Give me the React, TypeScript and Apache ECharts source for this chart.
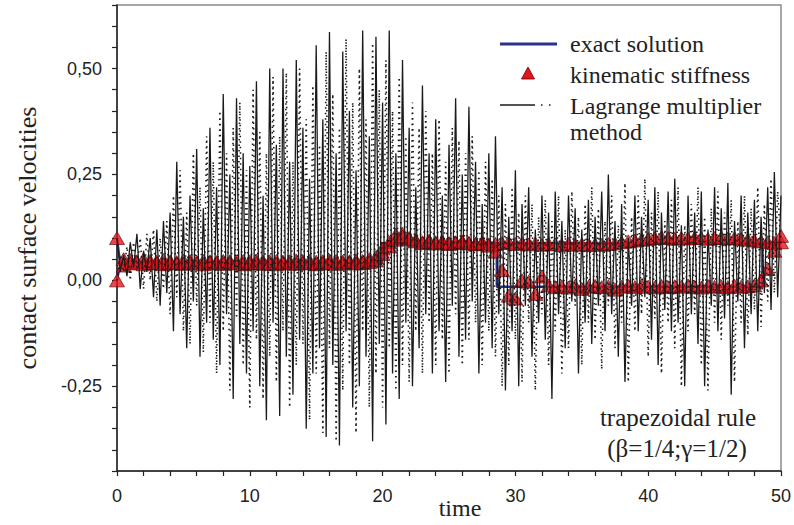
import React, { useEffect, useRef } from "react";
import * as echarts from "echarts";

// ---- data ----
const LAG_DT = 0.25; // sampling step of the Lagrange multiplier traces
const KS_DT = 0.5; // sampling step of the kinematic stiffness markers

// Lagrange multiplier method, surface 1 (solid)
const lagSolid = [
  0.10, 0.02, 0.06, 0.01,
  0.09, 0.03, 0.11, -0.02,
  0.07, 0.02, 0.10, -0.04,
  0.12, -0.06, 0.14, -0.03,
  0.16, -0.12, 0.28, -0.08,
  0.15, -0.16, 0.20, -0.05,
  0.31, -0.18, 0.17, -0.10,
  0.36, -0.14, 0.22, -0.20,
  0.44, -0.08, 0.25, -0.28,
  0.43, -0.15, 0.30, -0.22,
  0.27, -0.12, 0.47, -0.25,
  0.20, -0.33, 0.50, -0.10,
  0.32, -0.32, 0.50, -0.18,
  0.28, -0.27, 0.52, -0.14,
  0.36, -0.35, 0.24, -0.22,
  0.555, -0.16, 0.38, -0.37,
  0.586, -0.20, 0.30, -0.39,
  0.54, -0.12, 0.40, -0.30,
  0.26, -0.25, 0.59, -0.18,
  0.34, -0.38, 0.575, -0.15,
  0.42, -0.34, 0.59, -0.22,
  0.30, -0.28, 0.52, -0.10,
  0.36, -0.25, 0.22, -0.16,
  0.46, -0.08, 0.30, -0.22,
  0.38, -0.12, 0.20, -0.24,
  0.32, -0.06, 0.43, -0.18,
  0.25, -0.14, 0.41, -0.05,
  0.28, -0.22, 0.18, -0.10,
  0.30, -0.16, 0.34, -0.08,
  0.22, -0.26, 0.15, -0.12,
  0.26, -0.25, 0.18, -0.06,
  0.22, -0.18, 0.12, -0.10,
  0.20, -0.14, 0.16, -0.28,
  0.21, -0.08, 0.14, -0.16,
  0.20, -0.05, 0.17, -0.22,
  0.12, -0.10, 0.19, -0.15,
  0.15, -0.06, 0.21, -0.12,
  0.25, -0.08, 0.14, -0.18,
  0.18, -0.24, 0.10, -0.06,
  0.20, -0.12, 0.15, -0.04,
  0.19, -0.14, 0.22, -0.20,
  0.16, -0.07, 0.21, -0.12,
  0.24, -0.10, 0.13, -0.25,
  0.20, -0.08, 0.16, -0.15,
  0.21, -0.25, 0.12, -0.06,
  0.22, -0.12, 0.17, -0.09,
  0.23, -0.27, 0.14, -0.05,
  0.20, -0.16, 0.16, -0.08,
  0.19, -0.12, 0.15, -0.03,
  0.22, -0.07, 0.256, -0.04,
  0.20,
];

// Lagrange multiplier method, surface 2 (dotted)
const lagDotted = [
  0.00, 0.06, 0.02, 0.08,
  0.00, 0.09, 0.03, 0.10,
  -0.02, 0.11, 0.00, 0.12,
  -0.05, 0.10, -0.02, 0.14,
  -0.08, 0.20, -0.04, 0.26,
  -0.12, 0.16, -0.15, 0.30,
  -0.06, 0.22, -0.17, 0.34,
  -0.10, 0.28, -0.22, 0.40,
  -0.12, 0.30, -0.26, 0.36,
  -0.09, 0.42, -0.20, 0.26,
  -0.30, 0.45, -0.14, 0.35,
  -0.28, 0.30, -0.18, 0.48,
  -0.24, 0.34, -0.12, 0.49,
  -0.30, 0.28, -0.20, 0.50,
  -0.15, 0.38, -0.33, 0.46,
  -0.22, 0.32, -0.36, 0.54,
  -0.16, 0.44, -0.38, 0.36,
  -0.26, 0.57, -0.20, 0.42,
  -0.36, 0.50, -0.12, 0.38,
  -0.30, 0.56, -0.22, 0.45,
  -0.30, 0.52, -0.16, 0.40,
  -0.26, 0.48, -0.20, 0.34,
  -0.24, 0.42, -0.12, 0.36,
  -0.22, 0.40, -0.10, 0.30,
  -0.20, 0.38, -0.14, 0.28,
  -0.22, 0.36, -0.08, 0.33,
  -0.20, 0.30, -0.14, 0.34,
  -0.10, 0.26, -0.20, 0.28,
  -0.12, 0.24, -0.18, 0.20,
  -0.25, 0.18, -0.20, 0.22,
  -0.14, 0.16, -0.24, 0.20,
  -0.10, 0.18, -0.26, 0.15,
  -0.08, 0.19, -0.20, 0.14,
  -0.12, 0.20, -0.22, 0.12,
  -0.16, 0.21, -0.06, 0.15,
  -0.20, 0.18, -0.10, 0.22,
  -0.14, 0.17, -0.21, 0.14,
  -0.06, 0.20, -0.16, 0.13,
  -0.10, 0.23, -0.24, 0.15,
  -0.12, 0.20, -0.08, 0.24,
  -0.18, 0.16, -0.09, 0.21,
  -0.22, 0.14, -0.10, 0.19,
  -0.16, 0.22, -0.25, 0.13,
  -0.12, 0.18, -0.08, 0.22,
  -0.20, 0.15, -0.26, 0.17,
  -0.10, 0.21, -0.14, 0.16,
  -0.06, 0.19, -0.24, 0.14,
  -0.10, 0.20, -0.13, 0.17,
  -0.07, 0.22, -0.11, 0.18,
  -0.05, 0.24, -0.03, 0.21,
  0.08,
];

// kinematic stiffness, surface 1 (upper) and surface 2 (lower)
const ksUpper = [
  0.10, 0.05, 0.048, 0.045, 0.05, 0.046, 0.044, 0.048, 0.045, 0.043,
  0.047, 0.045, 0.044, 0.046, 0.045, 0.043, 0.046, 0.045, 0.044, 0.046,
  0.045, 0.047, 0.044, 0.045, 0.046, 0.044, 0.045, 0.047, 0.045, 0.046,
  0.044, 0.045, 0.047, 0.046, 0.044, 0.045, 0.047, 0.046, 0.05, 0.055,
  0.075, 0.09, 0.108, 0.11, 0.10, 0.095, 0.09, 0.094, 0.09, 0.092,
  0.088, 0.09, 0.092, 0.089, 0.087, 0.09, 0.085, 0.086, 0.088, 0.09,
  0.086, 0.088, 0.085, 0.087, 0.084, 0.086, 0.085, 0.083, 0.086, 0.084,
  0.085, 0.083, 0.085, 0.084, 0.086, 0.087, 0.09, 0.092, 0.094, 0.096,
  0.098, 0.10, 0.102, 0.10, 0.098, 0.10, 0.099, 0.101, 0.10, 0.098,
  0.10, 0.101, 0.099, 0.10, 0.098, 0.096, 0.094, 0.092, 0.09, 0.088,
  0.09,
];
const ksLower = [
  0.0, 0.035, 0.04, 0.042, 0.038, 0.041, 0.04, 0.038, 0.042, 0.04,
  0.039, 0.041, 0.04, 0.038, 0.041, 0.04, 0.039, 0.041, 0.04, 0.038,
  0.04, 0.041, 0.039, 0.04, 0.038, 0.041, 0.04, 0.039, 0.041, 0.04,
  0.038, 0.04, 0.041, 0.039, 0.04, 0.042, 0.04, 0.041, 0.043, 0.047,
  0.062, 0.08, 0.096, 0.104, 0.097, 0.092, 0.088, 0.09, 0.087, 0.089,
  0.086, 0.088, 0.09, 0.087, 0.085, 0.087, 0.082, 0.068, 0.024, -0.036,
  -0.043, 0.0, -0.003, -0.032, 0.009, -0.012, -0.016, -0.014, -0.017, -0.013,
  -0.02, -0.015, -0.013, -0.016, -0.014, -0.022, -0.015, -0.013, -0.016, -0.012,
  -0.015, -0.017, -0.013, -0.016, -0.014, -0.015, -0.012, -0.016, -0.017, -0.013,
  -0.015, -0.014, -0.016, -0.013, -0.015, -0.014, -0.012, 0.0, 0.027, 0.07,
  0.105,
];

// exact solution (two contact surfaces)
const exactUpperT = [0, 0.15, 0.35, 19.9, 19.9, 50];
const exactUpperV = [0.10, 0.06, 0.04, 0.04, 0.087, 0.087];
const exactLowerT = [0, 0.15, 0.35, 19.9, 19.9, 28.6, 28.6, 48.6, 48.6, 50];
const exactLowerV = [0.0, 0.025, 0.04, 0.04, 0.087, 0.087, -0.015, -0.015, 0.087, 0.087];

const X_LABELS = [0, 10, 20, 30, 40, 50];
const Y_LABELS = [-0.25, 0, 0.25, 0.5];

const SERIF = "Liberation Serif";
const SANS = "Liberation Sans";

const sampled = (vals: number[], dt: number) => vals.map((v, i) => [i * dt, v]);
const paired = (ts: number[], vs: number[]) => ts.map((t, i) => [t, vs[i]]);

export default function App() {
  const ref = useRef<HTMLDivElement>(null);

  useEffect(() => {
    document.body.style.margin = "0";
    if (!ref.current) return;
    const chart = echarts.init(ref.current, null, { renderer: "svg" });

    const triangleStyle = {
      color: "#e8141c",
      borderColor: "#5a0000",
      borderWidth: 0.8,
    };

    const option: any = {
      animation: false,
      backgroundColor: "#ffffff",
      grid: {
        left: 117,
        right: 12,
        top: 5,
        bottom: 54,
        show: true,
        borderColor: "#8a8a8a",
        borderWidth: 1.5,
        backgroundColor: "transparent",
      },
      xAxis: {
        type: "value",
        min: 0,
        max: 50,
        interval: 2,
        axisLine: { show: true, onZero: false, lineStyle: { color: "#222", width: 1.5 } },
        axisTick: { show: true, inside: false, length: 5, lineStyle: { color: "#222", width: 1.2 } },
        splitLine: { show: false },
        axisLabel: {
          margin: 16,
          color: "#222",
          fontFamily: SANS,
          fontSize: 18,
          formatter: (v: number) => (X_LABELS.includes(Math.round(v)) && Math.abs(v - Math.round(v)) < 1e-6 ? String(Math.round(v)) : ""),
        },
      },
      yAxis: {
        type: "value",
        min: -0.45,
        max: 0.65,
        interval: 0.05,
        name: "contact surface velocities",
        nameLocation: "middle",
        nameRotate: 90,
        nameGap: 77,
        nameTextStyle: { fontFamily: SERIF, fontSize: 26, color: "#222" },
        axisLine: { show: true, onZero: false, lineStyle: { color: "#222", width: 1.5 } },
        axisTick: { show: true, inside: false, length: 5, lineStyle: { color: "#222", width: 1.2 } },
        splitLine: { show: false },
        axisLabel: {
          margin: 15,
          color: "#222",
          fontFamily: SANS,
          fontSize: 18,
          formatter: (v: number) => {
            const k = Math.round(v * 100);
            const hit = Y_LABELS.some((y) => Math.round(y * 100) === k);
            return hit ? (k / 100).toFixed(2).replace(".", ",") : "";
          },
        },
      },
      series: [
        {
          name: "exact solution",
          type: "line",
          data: paired(exactUpperT, exactUpperV),
          showSymbol: false,
          smooth: false,
          lineStyle: { color: "#2b3190", width: 2.5 },
          z: 2,
        },
        {
          name: "exact solution",
          type: "line",
          data: paired(exactLowerT, exactLowerV),
          showSymbol: false,
          lineStyle: { color: "#2b3190", width: 2.5 },
          z: 2,
        },
        {
          name: "kinematic stiffness",
          type: "scatter",
          data: sampled(ksUpper, KS_DT),
          symbol: "triangle",
          symbolSize: [15, 13],
          itemStyle: triangleStyle,
          z: 3,
        },
        {
          name: "kinematic stiffness",
          type: "scatter",
          data: sampled(ksLower, KS_DT),
          symbol: "triangle",
          symbolSize: [15, 13],
          itemStyle: triangleStyle,
          z: 3,
        },
        {
          name: "Lagrange multiplier method",
          type: "line",
          data: sampled(lagDotted, LAG_DT),
          showSymbol: false,
          lineStyle: { color: "#1a1a1a", width: 1.6, type: [1.5, 4] },
          z: 4,
        },
        {
          name: "Lagrange multiplier method",
          type: "line",
          data: sampled(lagSolid, LAG_DT),
          showSymbol: false,
          lineStyle: { color: "#1a1a1a", width: 1.3 },
          z: 5,
        },
      ],
      graphic: [
        // legend
        { type: "line", shape: { x1: 500, y1: 44, x2: 557, y2: 44 }, style: { stroke: "#2b3190", lineWidth: 3 }, z: 100 },
        { type: "text", x: 570, y: 44, style: { text: "exact solution", fontFamily: SERIF, fontSize: 24, fill: "#222", align: "left", verticalAlign: "middle" }, z: 100 },
        { type: "polygon", shape: { points: [[521.5, 79], [534.5, 79], [528, 67]] }, style: { fill: "#e8141c", stroke: "#5a0000", lineWidth: 0.8 }, z: 100 },
        { type: "text", x: 570, y: 75, style: { text: "kinematic stiffness", fontFamily: SERIF, fontSize: 24, fill: "#222", align: "left", verticalAlign: "middle" }, z: 100 },
        { type: "line", shape: { x1: 500, y1: 105, x2: 535, y2: 105 }, style: { stroke: "#1a1a1a", lineWidth: 1.3 }, z: 100 },
        { type: "rect", shape: { x: 541, y: 104.3, width: 1.5, height: 1.5 }, style: { fill: "#1a1a1a" }, z: 100 },
        { type: "rect", shape: { x: 549, y: 104.3, width: 1.5, height: 1.5 }, style: { fill: "#1a1a1a" }, z: 100 },
        { type: "text", x: 570, y: 106, style: { text: "Lagrange multiplier", fontFamily: SERIF, fontSize: 24, fill: "#222", align: "left", verticalAlign: "middle" }, z: 100 },
        { type: "text", x: 570, y: 132, style: { text: "method", fontFamily: SERIF, fontSize: 24, fill: "#222", align: "left", verticalAlign: "middle" }, z: 100 },
        // annotation
        { type: "text", x: 678, y: 417, style: { text: "trapezoidal rule", fontFamily: SERIF, fontSize: 25, fill: "#222", align: "center", verticalAlign: "middle" }, z: 100 },
        { type: "text", x: 677, y: 448, style: { text: "(β=1/4;γ=1/2)", fontFamily: SERIF, fontSize: 25, fill: "#222", align: "center", verticalAlign: "middle" }, z: 100 },
        // x axis title
        { type: "text", x: 460, y: 508, style: { text: "time", fontFamily: SERIF, fontSize: 24, fill: "#222", align: "center", verticalAlign: "middle" }, z: 100 },
      ],
    };

    chart.setOption(option);
    return () => chart.dispose();
  }, []);

  return (
    <div
      ref={ref}
      style={{ width: 794, height: 525, position: "fixed", left: 0, top: 0, background: "#fff" }}
    />
  );
}
